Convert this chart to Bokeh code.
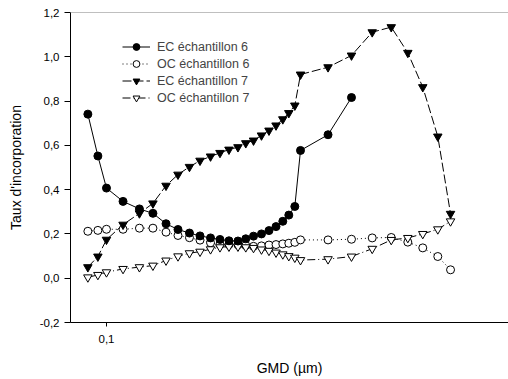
from bokeh.plotting import figure
from bokeh.models import (ColumnDataSource, FixedTicker, CustomJSTickFormatter,
                          Legend, LegendItem, Span, Range1d)
from bokeh.embed import file_html
from bokeh.resources import INLINE

# GMD (µm) for each size channel
gmd = [0.0903, 0.0954, 0.1000, 0.1095, 0.1198, 0.1290, 0.1386, 0.1480,
       0.1576, 0.1670, 0.1769, 0.1863, 0.1957, 0.2056, 0.2146, 0.2239,
       0.2339, 0.2437, 0.2533, 0.2629, 0.2717, 0.2808, 0.2897, 0.3369,
       0.3831, 0.4292, 0.4764, 0.5217, 0.5663, 0.6149, 0.6594]

ec6 = [0.741, 0.552, 0.407, 0.347, 0.313, 0.293, 0.246, 0.220, 0.204,
       0.191, 0.182, 0.175, 0.169, 0.168, 0.178, 0.190, 0.200, 0.215,
       0.233, 0.257, 0.285, 0.324, 0.577, 0.648, 0.816]

oc6 = [0.212, 0.216, 0.221, 0.221, 0.226, 0.226, 0.208, 0.193, 0.183,
       0.172, 0.160, 0.153, 0.152, 0.151, 0.148, 0.144, 0.146, 0.150,
       0.152, 0.155, 0.158, 0.162, 0.173, 0.173, 0.176, 0.182, 0.184,
       0.163, 0.137, 0.098, 0.038]

ec7 = [0.050, 0.098, 0.174, 0.242, 0.293, 0.338, 0.418, 0.468, 0.503,
       0.531, 0.550, 0.566, 0.581, 0.592, 0.610, 0.622, 0.645, 0.667,
       0.690, 0.718, 0.746, 0.780, 0.920, 0.953, 1.006, 1.111, 1.134,
       1.018, 0.863, 0.640, 0.291]

oc7 = [0.004, 0.015, 0.027, 0.042, 0.050, 0.057, 0.080, 0.099, 0.113,
       0.120, 0.131, 0.140, 0.143, 0.143, 0.140, 0.137, 0.130, 0.124,
       0.116, 0.108, 0.100, 0.093, 0.082, 0.086, 0.098, 0.133, 0.173,
       0.182, 0.200, 0.221, 0.257]

labels = ["EC échantillon 6", "OC échantillon 6", "EC échantillon 7", "OC échantillon 7"]
x_ticks = [0.1]
y_ticks = [-0.2, 0.0, 0.2, 0.4, 0.6, 0.8, 1.0, 1.2]

FONT = "Liberation Sans"

p = figure(width=508, height=379, x_axis_type="log", output_backend="svg",
           toolbar_location=None,
           x_range=Range1d(0.0821, 0.906), y_range=Range1d(-0.2, 1.2),
           min_border_left=70, min_border_right=0, min_border_top=12,
           min_border_bottom=57)
p.outline_line_color = None
p.xgrid.visible = False
p.ygrid.visible = False
p.background_fill_color = "white"
p.border_fill_color = "white"

p.add_layout(Span(location=1.2, dimension="width", line_color="#808080", line_width=1))

fmt = CustomJSTickFormatter(code="return tick.toFixed(1).replace('.', ',');")

xa = p.xaxis[0]
xa.ticker = FixedTicker(ticks=x_ticks, minor_ticks=[])
xa.formatter = fmt
xa.axis_label = "GMD (µm)"
ya = p.yaxis[0]
ya.ticker = FixedTicker(ticks=y_ticks, minor_ticks=[])
ya.formatter = fmt
ya.axis_label = "Taux d'incorporation"

for ax in (xa, ya):
    ax.axis_line_color = "black"
    ax.major_tick_line_color = "black"
    ax.minor_tick_line_color = None
    ax.major_tick_in = 0
    ax.major_label_text_font = FONT
    ax.major_label_text_font_size = "11.5px"
    ax.major_label_text_color = "black"
    ax.axis_label_text_font = FONT
    ax.axis_label_text_font_size = "14px"
    ax.axis_label_text_font_style = "normal"
    ax.axis_label_text_color = "black"
xa.major_tick_out = 4
xa.major_label_standoff = 8
xa.axis_label_standoff = 14
ya.major_tick_out = 6
ya.major_label_standoff = 5
ya.axis_label_standoff = 13

n6 = len(ec6)
s_ec6 = ColumnDataSource(dict(x=gmd[:n6], y=ec6))
s_oc6 = ColumnDataSource(dict(x=gmd, y=oc6))
s_ec7 = ColumnDataSource(dict(x=gmd, y=ec7))
s_oc7 = ColumnDataSource(dict(x=gmd, y=oc7))

l1 = p.line("x", "y", source=s_ec6, line_color="black", line_width=1)
l2 = p.line("x", "y", source=s_oc6, line_color="black", line_width=1, line_dash="1 3")
l3 = p.line("x", "y", source=s_ec7, line_color="black", line_width=1, line_dash="9 3")
l4 = p.line("x", "y", source=s_oc7, line_color="black", line_width=1, line_dash="8 3 1 3")

m2 = p.scatter("x", "y", source=s_oc6, marker="circle", size=8,
               fill_color="white", line_color="black", line_width=1)
m4 = p.scatter("x", "y", source=s_oc7, marker="inverted_triangle", size=8.5,
               fill_color="white", line_color="black", line_width=1)
m1 = p.scatter("x", "y", source=s_ec6, marker="circle", size=8,
               fill_color="black", line_color="black", line_width=1)
m3 = p.scatter("x", "y", source=s_ec7, marker="inverted_triangle", size=8.5,
               fill_color="black", line_color="black", line_width=1)

legend = Legend(items=[LegendItem(label=labels[0], renderers=[l1, m1]),
                       LegendItem(label=labels[1], renderers=[l2, m2]),
                       LegendItem(label=labels[2], renderers=[l3, m3]),
                       LegendItem(label=labels[3], renderers=[l4, m4])],
                location=(52, 216), padding=0, margin=0, spacing=0,
                glyph_width=28, glyph_height=17, label_height=17,
                label_standoff=7, label_text_font=FONT,
                label_text_font_size="12.5px", border_line_color=None,
                background_fill_alpha=0)
p.add_layout(legend)

open("out.html", "w").write(file_html(p, INLINE))
